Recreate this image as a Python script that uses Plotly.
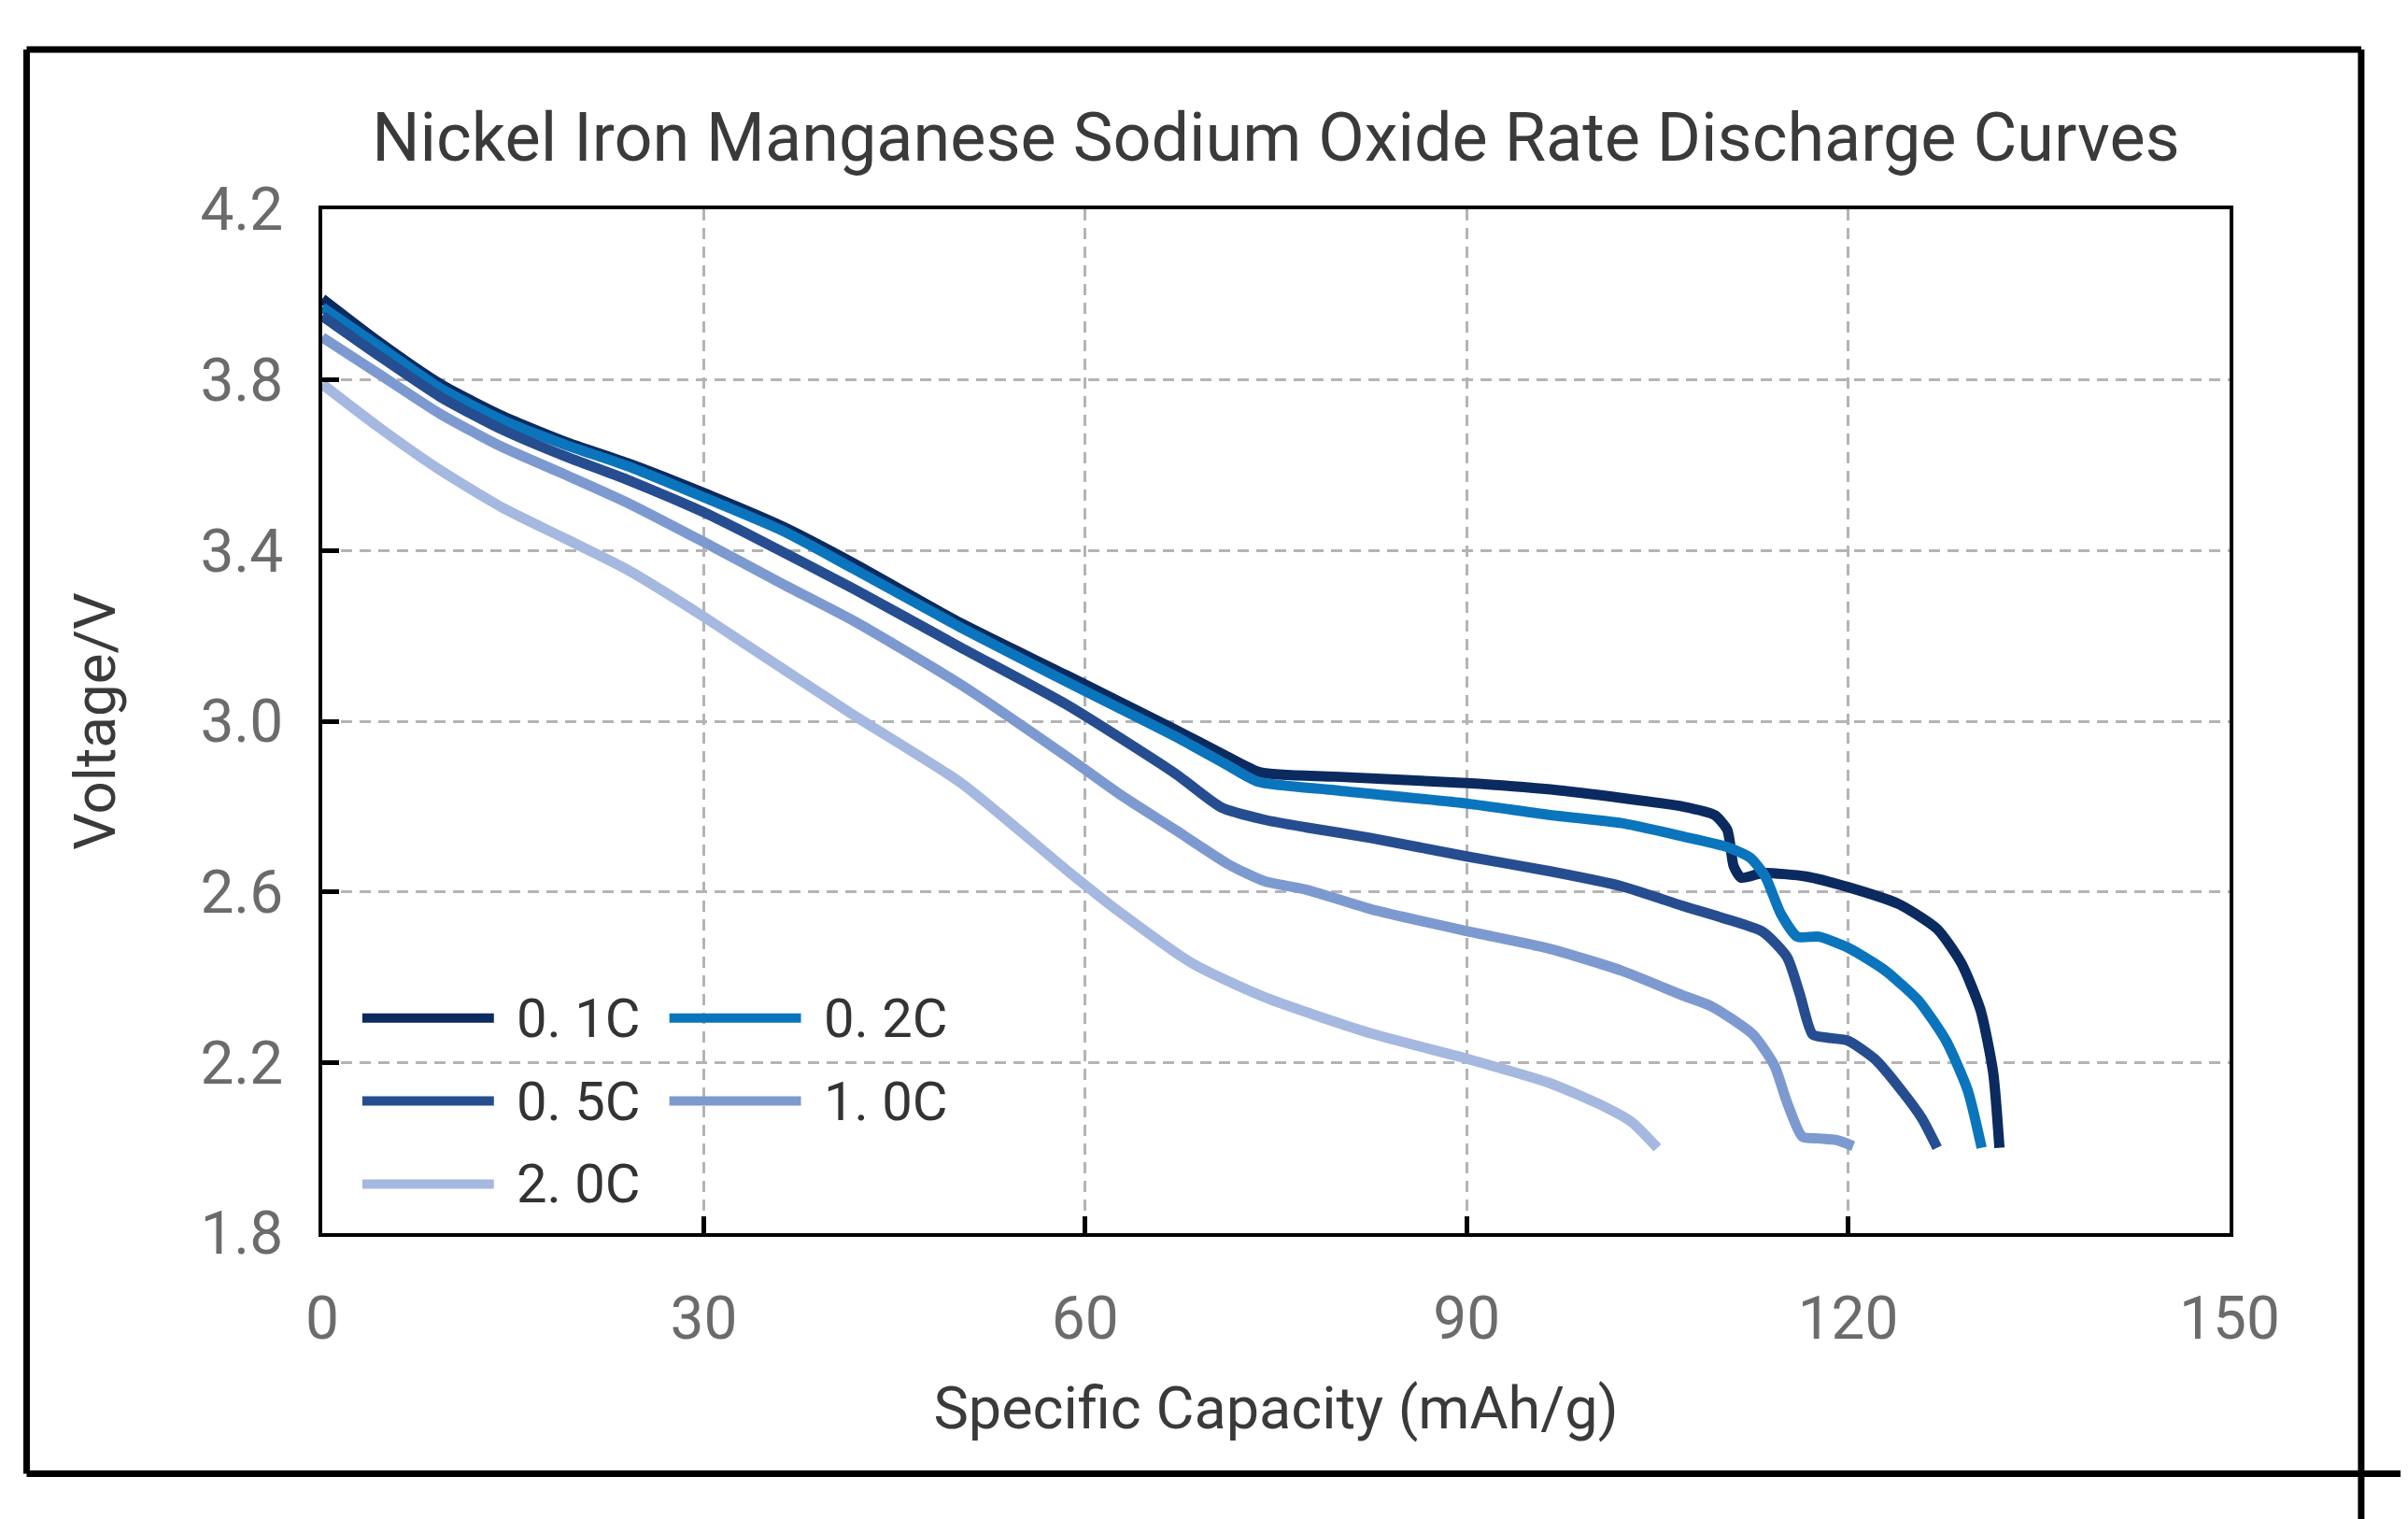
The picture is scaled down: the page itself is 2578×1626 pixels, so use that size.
import plotly.graph_objects as go

# rate labels and line colours
rates = ["0. 1C", "0. 2C", "0. 5C", "1. 0C", "2. 0C"]
colors = ["#0b2a5f", "#0a75bc", "#264d8f", "#7d9ad0", "#a5b8e0"]

# specific capacity (mAh/g) and voltage (V)
cap_01c = [0, 4.4, 9.3, 14.2, 19.1, 24.0, 30, 36.3, 41.8, 50.2, 58.7, 67.1, 71.0, 73.8, 79.7, 90, 96.6,
           102.2, 107.0, 109.5, 110.5, 111.0, 111.6, 113.3, 116.7, 120, 124, 127, 128.9, 130.4, 131.4, 131.9]
volt_01c = [3.99, 3.89, 3.79, 3.715, 3.655, 3.605, 3.535, 3.455, 3.37, 3.23, 3.105, 2.98, 2.92, 2.88, 2.87,
            2.855, 2.84, 2.82, 2.80, 2.78, 2.745, 2.66, 2.633, 2.644, 2.636, 2.611, 2.571, 2.513, 2.433,
            2.324, 2.178, 2.0]

cap_02c = [0, 4.4, 9.3, 14.2, 19.1, 24.0, 30, 36.3, 41.8, 50.2, 58.7, 67.1, 71.0, 73.6, 79.7, 90, 96.6,
           102.2, 107.0, 110.5, 112.3, 113.5, 114.7, 116.0, 117.7, 120, 122.8, 125.5, 127.7, 129.4, 130.5]
volt_02c = [3.97, 3.88, 3.78, 3.705, 3.648, 3.598, 3.525, 3.445, 3.357, 3.22, 3.09, 2.964, 2.9, 2.858,
            2.838, 2.807, 2.78, 2.761, 2.73, 2.705, 2.68, 2.635, 2.549, 2.495, 2.495, 2.469, 2.418, 2.346,
            2.251, 2.135, 2.0]

cap_05c = [0, 4.4, 9.3, 14.2, 19.1, 24.0, 30, 33.4, 41.8, 50.2, 58.7, 67.1, 70.7, 74.1, 77.4, 82.5, 90,
           96.6, 102.2, 107.0, 110.0, 113.3, 115.2, 116.2, 117.2, 118.4, 120, 122.1, 124.0, 125.8, 127.0]
volt_05c = [3.95, 3.858, 3.76, 3.683, 3.621, 3.566, 3.49, 3.44, 3.31, 3.173, 3.036, 2.877, 2.798, 2.769,
            2.751, 2.726, 2.683, 2.648, 2.613, 2.567, 2.54, 2.506, 2.447, 2.36, 2.266, 2.258, 2.251, 2.208,
            2.142, 2.069, 2.0]

cap_10c = [0, 4.4, 9.3, 14.2, 19.1, 24.0, 30, 36.3, 41.8, 50.2, 58.7, 62.9, 67.1, 71.3, 74.1, 77.4, 82.5,
           90, 96.6, 102.2, 107.0, 109.3, 112.5, 114.2, 115.2, 116.4, 117.7, 119.1, 120.4]
volt_10c = [3.90, 3.815, 3.72, 3.642, 3.578, 3.512, 3.42, 3.32, 3.235, 3.086, 2.914, 2.825, 2.745, 2.664,
            2.625, 2.605, 2.559, 2.508, 2.466, 2.415, 2.357, 2.331, 2.266, 2.193, 2.106, 2.026, 2.022,
            2.018, 2.004]

cap_20c = [0, 4.4, 9.3, 14.2, 19.1, 24.0, 30, 33.4, 41.8, 50.2, 58.7, 62.6, 68.5, 74.1, 82.5, 90, 96.6,
           100.8, 103.0, 105.0]
volt_20c = [3.79, 3.69, 3.588, 3.50, 3.428, 3.355, 3.245, 3.178, 3.014, 2.856, 2.647, 2.555, 2.431, 2.353,
            2.268, 2.209, 2.151, 2.097, 2.06, 2.0]

capacities = [cap_01c, cap_02c, cap_05c, cap_10c, cap_20c]
voltages = [volt_01c, volt_02c, volt_05c, volt_10c, volt_20c]

x_ticks = [0, 30, 60, 90, 120, 150]
y_ticks = [1.8, 2.2, 2.6, 3.0, 3.4, 3.8, 4.2]

fig = go.Figure()
for name, col, xs, ys in zip(rates, colors, capacities, voltages):
    fig.add_trace(go.Scatter(x=xs, y=ys, name=name, mode="lines",
                             line=dict(color=col, width=11, shape="spline", smoothing=0.6),
                             showlegend=False))

# legend drawn by hand so the sample lines are long like the original
for i, (name, col) in enumerate(zip(rates, colors)):
    c, r = i % 2, i // 2
    x0 = 0.021 + c * 0.161
    y0 = 0.21 - r * 0.081
    fig.add_shape(type="line", xref="paper", yref="paper", x0=x0, x1=x0 + 0.069, y0=y0, y1=y0,
                  line=dict(color=col, width=10))
    fig.add_annotation(xref="paper", yref="paper", x=x0 + 0.08, y=y0, text=name, showarrow=False,
                       xanchor="left", yanchor="middle",
                       font=dict(family="Roboto, sans-serif", size=58, color="#333333"))

# outer black frame
frame = dict(color="black", width=7)
fig.add_shape(type="line", xref="paper", yref="paper", x0=-0.155, x1=1.069, y0=1.156, y1=1.156, line=frame)
fig.add_shape(type="line", xref="paper", yref="paper", x0=-0.155, x1=-0.155, y0=1.156, y1=-0.235, line=frame)
fig.add_shape(type="line", xref="paper", yref="paper", x0=-0.155, x1=1.12, y0=-0.235, y1=-0.235, line=frame)
fig.add_shape(type="line", xref="paper", yref="paper", x0=1.069, x1=1.069, y0=1.156, y1=-0.29, line=frame)

axis_common = dict(showline=True, linecolor="black", linewidth=4, mirror=True,
                   ticks="inside", ticklen=18, tickwidth=5, tickcolor="black",
                   showgrid=True, gridcolor="#b4b4b4", gridwidth=3, griddash="12px,8px",
                   zeroline=False,
                   tickfont=dict(family="Roboto, sans-serif", size=64, color="#6b6b6b"))

fig.update_xaxes(range=[0, 150], tickvals=x_ticks, ticklabelstandoff=32,
                 title=dict(text="Specific Capacity (mAh/g)", standoff=38,
                            font=dict(family="Roboto, sans-serif", size=63, color="#3a3a3a")),
                 **axis_common)
fig.update_yaxes(range=[1.8, 4.2], tickvals=y_ticks, tickformat=".1f", ticklabelstandoff=25,
                 title=dict(text="Voltage/V", standoff=72,
                            font=dict(family="Roboto, sans-serif", size=62, color="#3a3a3a")),
                 **axis_common)

fig.update_layout(
    width=2570, height=1618,
    margin=dict(l=337, r=191, t=216, b=306),
    paper_bgcolor="white", plot_bgcolor="white",
    title=dict(text="Nickel Iron Manganese Sodium Oxide Rate Discharge Curves",
               x=0.5, xref="paper", y=0.914, yanchor="middle",
               font=dict(family="Roboto, sans-serif", size=72, color="#3a3a3a")),
)

fig.write_html("out.html")
